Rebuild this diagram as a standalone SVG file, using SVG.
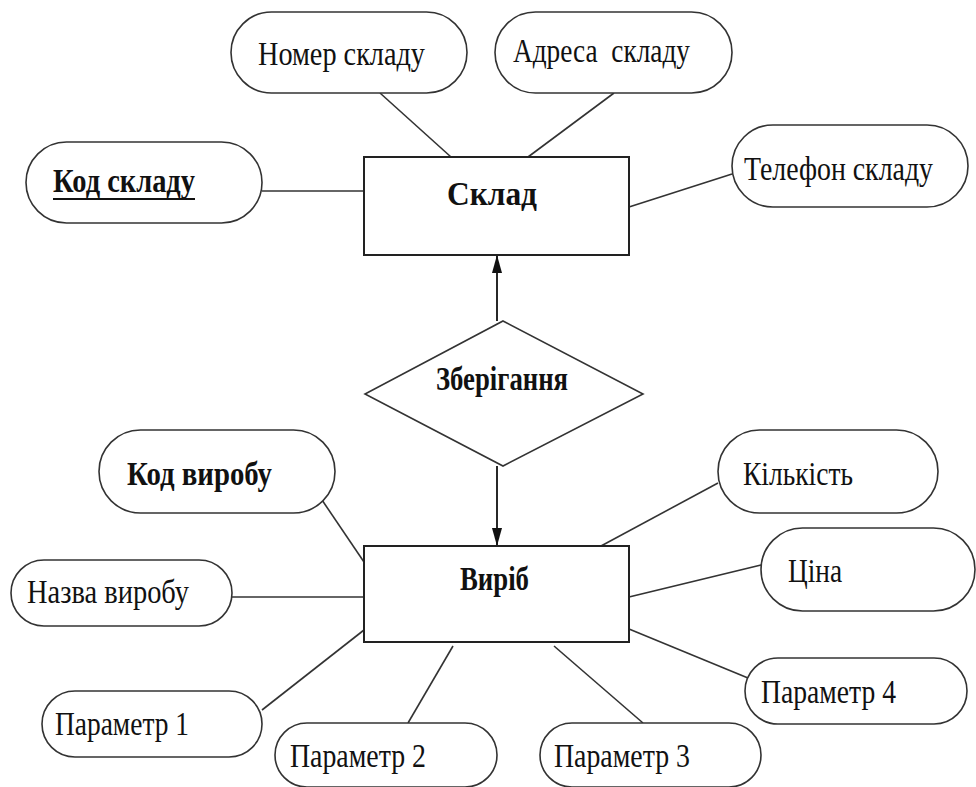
<svg xmlns="http://www.w3.org/2000/svg" width="976" height="787" viewBox="0 0 976 787">
  <style>
    .attr { fill: #fff; stroke: #333; stroke-width: 1.6; }
    .ent { fill: #fff; stroke: #222; stroke-width: 2; }
    .rel { fill: #fff; stroke: #333; stroke-width: 1.6; }
    .lnk { stroke: #333; stroke-width: 1.6; fill: none; }
    .arr { stroke: #111; stroke-width: 1.8; fill: none; }
    text { font-family: "Liberation Serif", "Times New Roman", serif; font-size: 33px; fill: #111; }
    .b { font-weight: bold; }
  </style>
  <defs>
    <marker id="headL" viewBox="0 0 18 10" refX="18" refY="5" markerWidth="18" markerHeight="10" markerUnits="userSpaceOnUse" orient="auto">
      <path d="M0,0 L18,5 L0,10 z" fill="#111"/>
    </marker>
  </defs>
  <rect width="976" height="787" fill="#fff"/>

  <!-- connectors -->
  <g id="connectors">
    <line class="lnk" x1="380" y1="93" x2="451" y2="157"/>
    <line class="lnk" x1="614" y1="93" x2="528" y2="157"/>
    <line class="lnk" x1="262" y1="191" x2="364" y2="191"/>
    <line class="lnk" x1="732" y1="174" x2="629" y2="207"/>
    <line class="arr" x1="497" y1="321" x2="497" y2="255" marker-end="url(#headL)"/>
    <line class="arr" x1="497" y1="466" x2="497" y2="546" marker-end="url(#headL)"/>
    <line class="lnk" x1="322" y1="500" x2="364" y2="562"/>
    <line class="lnk" x1="232" y1="597" x2="364" y2="597"/>
    <line class="lnk" x1="262" y1="710" x2="364" y2="630"/>
    <line class="lnk" x1="408" y1="723" x2="453" y2="646"/>
    <line class="lnk" x1="643" y1="723" x2="554" y2="646"/>
    <line class="lnk" x1="718" y1="483" x2="601" y2="546"/>
    <line class="lnk" x1="761" y1="565" x2="629" y2="597"/>
    <line class="lnk" x1="748" y1="678" x2="629" y2="629"/>
  </g>

  <!-- entity: warehouse -->
  <g id="sklad">
    <rect class="ent" x="364" y="157" width="265" height="98"/>
    <text class="b" x="447" y="205" textLength="90" lengthAdjust="spacingAndGlyphs">Склад</text>
  </g>

  <g id="nomer-skladu">
    <rect class="attr" x="231" y="12" width="236" height="81" rx="40.5"/>
    <text x="258" y="65" textLength="167" lengthAdjust="spacingAndGlyphs">Номер складу</text>
  </g>
  <g id="adresa-skladu">
    <rect class="attr" x="495" y="12" width="237" height="81" rx="40.5"/>
    <text x="513" y="62" textLength="177" lengthAdjust="spacingAndGlyphs" xml:space="preserve">Адреса  складу</text>
  </g>
  <g id="kod-skladu">
    <rect class="attr" x="26" y="142" width="236" height="81" rx="40.5"/>
    <text class="b" x="53" y="192" textLength="142" lengthAdjust="spacingAndGlyphs">Код складу</text>
    <line x1="53" y1="199" x2="195" y2="199" stroke="#111" stroke-width="1.8"/>
  </g>
  <g id="telefon-skladu">
    <rect class="attr" x="732" y="125" width="236" height="82" rx="41"/>
    <text x="744" y="180" textLength="189" lengthAdjust="spacingAndGlyphs">Телефон складу</text>
  </g>

  <!-- relationship -->
  <g id="zberigannia">
    <polygon class="rel" points="503,321 643,394 503,466 365,394"/>
    <text class="b" x="436" y="390" textLength="132" lengthAdjust="spacingAndGlyphs">Зберігання</text>
  </g>

  <!-- entity: product -->
  <g id="vyrib">
    <rect class="ent" x="364" y="546" width="265" height="96"/>
    <text class="b" x="460" y="590" textLength="69" lengthAdjust="spacingAndGlyphs">Виріб</text>
  </g>

  <g id="kod-vyrobu">
    <rect class="attr" x="99" y="430" width="236" height="83" rx="41.5"/>
    <text class="b" x="127" y="485" textLength="145" lengthAdjust="spacingAndGlyphs">Код виробу</text>
  </g>
  <g id="nazva-vyrobu">
    <rect class="attr" x="11" y="560" width="221" height="66" rx="33"/>
    <text x="27" y="603" textLength="162" lengthAdjust="spacingAndGlyphs">Назва виробу</text>
  </g>
  <g id="parametr-1">
    <rect class="attr" x="42" y="691" width="220" height="66" rx="33"/>
    <text x="55" y="735" textLength="134" lengthAdjust="spacingAndGlyphs">Параметр 1</text>
  </g>
  <g id="parametr-2">
    <rect class="attr" x="275" y="723" width="222" height="64" rx="32"/>
    <text x="290" y="767" textLength="136" lengthAdjust="spacingAndGlyphs">Параметр 2</text>
  </g>
  <g id="parametr-3">
    <rect class="attr" x="540" y="723" width="221" height="64" rx="32"/>
    <text x="554" y="767" textLength="136" lengthAdjust="spacingAndGlyphs">Параметр 3</text>
  </g>
  <g id="kilkist">
    <rect class="attr" x="718" y="430" width="220" height="83" rx="41.5"/>
    <text x="743" y="485" textLength="110" lengthAdjust="spacingAndGlyphs">Кількість</text>
  </g>
  <g id="tsina">
    <rect class="attr" x="761" y="528" width="214" height="83" rx="41.5"/>
    <text x="788" y="582" textLength="54" lengthAdjust="spacingAndGlyphs">Ціна</text>
  </g>
  <g id="parametr-4">
    <rect class="attr" x="745" y="658" width="222" height="66" rx="33"/>
    <text x="761" y="703" textLength="135" lengthAdjust="spacingAndGlyphs">Параметр 4</text>
  </g>
</svg>
